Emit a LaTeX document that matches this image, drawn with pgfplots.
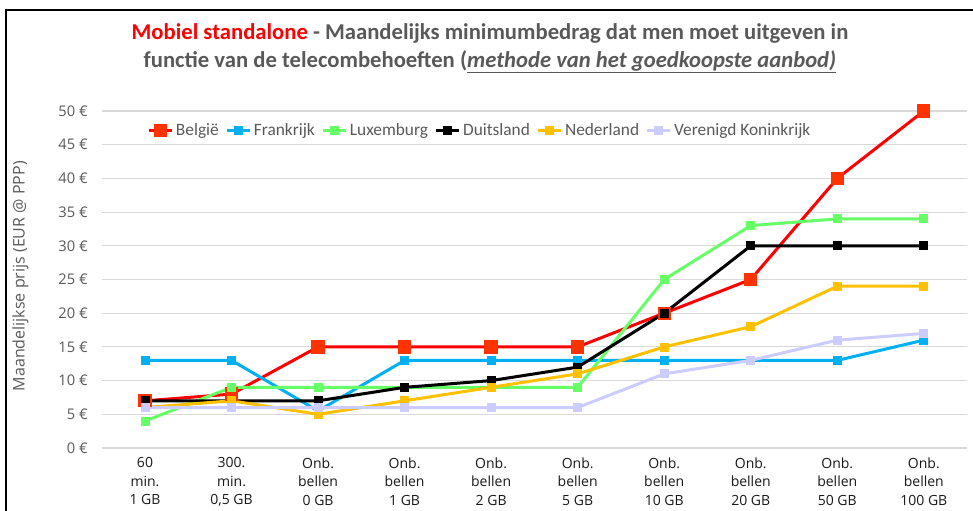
\documentclass[border=0pt]{standalone}
\usepackage{pgfplots}
\pgfplotsset{compat=1.18}
\usepackage{fontspec}
\setmainfont{Carlito}
\newfontfamily\axisfont{Open Sans}
\definecolor{beline}{HTML}{FF0000}
\definecolor{bemark}{HTML}{FF3300}
\definecolor{fr}{HTML}{00B0F0}
\definecolor{lu}{HTML}{66FF66}
\definecolor{nl}{HTML}{FFC000}
\definecolor{uk}{HTML}{CCCCFF}
\definecolor{txtgray}{HTML}{595959}
\definecolor{gridgray}{HTML}{D9D9D9}
\begin{document}
\begin{tikzpicture}
\useasboundingbox (0,0) rectangle (729.75pt,382.5pt);
\clip (0,0) rectangle (729.75pt,382.5pt);
\draw[line width=1.5pt] (4.5pt,-20pt) rectangle (760pt,375pt);
\node[font=\bfseries\fontsize{17}{20.5}\selectfont, text=txtgray, align=center] at (367.5pt,346pt)
 {\textcolor{beline}{Mobiel standalone} - Maandelijks minimumbedrag dat men moet uitgeven in\\
  functie van de telecombehoeften (\underline{\textit{methode van het goedkoopste aanbod)}}};
\begin{axis}[
  at={(76.3pt,46.5pt)}, anchor=south west, scale only axis,
  width=649pt, height=252.75pt,
  xmin=-0.5, xmax=9.5, ymin=0, ymax=50,
  ytick={0,5,...,50},
  xtick={0,...,9},
  xticklabels={{60\\min.\\1 GB},{300.\\min.\\0,5 GB},{Onb.\\bellen\\0 GB},{Onb.\\bellen\\1 GB},{Onb.\\bellen\\2 GB},{Onb.\\bellen\\5 GB},{Onb.\\bellen\\10 GB},{Onb.\\bellen\\20 GB},{Onb.\\bellen\\50 GB},{Onb.\\bellen\\100 GB}},
  xticklabel style={align=center, font=\axisfont\fontsize{10.5}{14}\selectfont, text=black!90, yshift=-3.5pt},
  /pgf/number format/assume math mode=true,
  yticklabel={\pgfmathprintnumber{\tick}~€},
  yticklabel style={font=\axisfont\fontsize{11}{14}\selectfont, text=txtgray, xshift=-7pt},
  axis line style={draw=none},
  major tick length=0pt,
  ymajorgrids, grid style={draw=gridgray, line width=0.8pt},
  ylabel={Maandelijkse prijs (EUR @ PPP)},
  ylabel style={at={(axis description cs:-0.094,0.51)}, anchor=center, rotate=0, font=\axisfont\fontsize{12}{14}\selectfont, text=txtgray},
  legend style={at={(axis description cs:0.048,0.943)}, anchor=west, draw=none, fill=none,
    font=\fontsize{13}{15}\selectfont, text=txtgray,
    /tikz/every even column/.append style={column sep=3pt}},
  legend columns=-1,
  every axis plot/.append style={line width=2.25pt},
]
\addplot[color=beline, mark=square*, mark size=4.6pt, mark options={solid, fill=bemark, draw=bemark, line width=0.8pt}]
 coordinates {(0,7)(1,8)(2,15)(3,15)(4,15)(5,15)(6,20)(7,25)(8,40)(9,50)};
\addlegendentry{België}
\addplot[color=fr, mark=square*, mark size=3pt, mark options={solid, line width=0.6pt}]
 coordinates {(0,13)(1,13)(2,5.5)(3,13)(4,13)(5,13)(6,13)(7,13)(8,13)(9,16)};
\addlegendentry{Frankrijk}
\addplot[color=lu, mark=square*, mark size=3pt, mark options={solid, line width=0.6pt}]
 coordinates {(0,4)(1,9)(2,9)(3,9)(4,9)(5,9)(6,25)(7,33)(8,34)(9,34)};
\addlegendentry{Luxemburg}
\addplot[color=black, mark=square*, mark size=3pt, mark options={solid, line width=0.6pt}]
 coordinates {(0,7)(1,7)(2,7)(3,9)(4,10)(5,12)(6,20)(7,30)(8,30)(9,30)};
\addlegendentry{Duitsland}
\addplot[color=nl, mark=square*, mark size=3pt, mark options={solid, line width=0.6pt}]
 coordinates {(0,6)(1,7)(2,5)(3,7)(4,9)(5,11)(6,15)(7,18)(8,24)(9,24)};
\addlegendentry{Nederland}
\addplot[color=uk, mark=square*, mark size=3pt, mark options={solid, line width=0.6pt}]
 coordinates {(0,6)(1,6)(2,6)(3,6)(4,6)(5,6)(6,11)(7,13)(8,16)(9,17)};
\addlegendentry{Verenigd Koninkrijk}
\end{axis}
\end{tikzpicture}
\end{document}
